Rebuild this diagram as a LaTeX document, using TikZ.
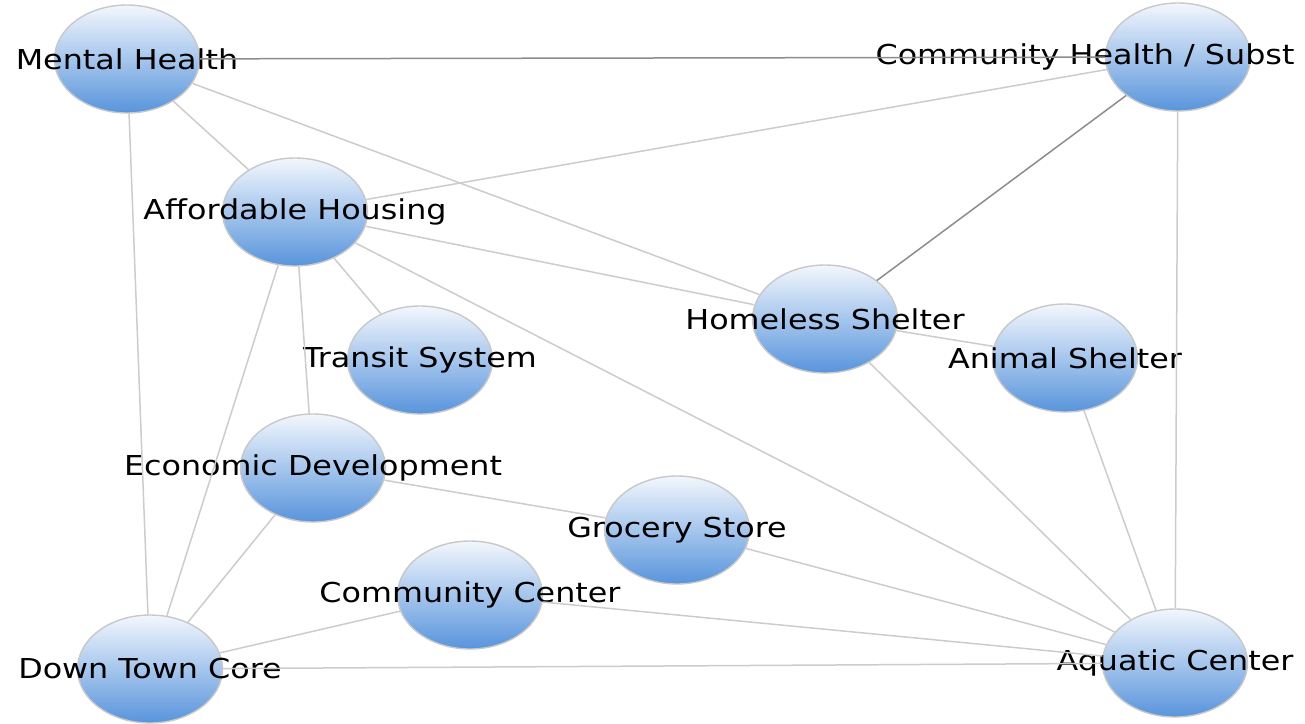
\documentclass[tikz,border=0pt]{standalone}
\usepackage{fontspec}
\setmainfont{DejaVu Sans}[FakeStretch=1.16]
\usetikzlibrary{shapes.geometric}
\definecolor{hubtop}{RGB}{243,247,253}
\definecolor{hubbot}{RGB}{88,148,220}
\definecolor{hubrim}{RGB}{200,200,200}
\definecolor{linkgray}{RGB}{204,204,204}
\definecolor{darkgray}{RGB}{140,140,140}
\tikzset{
  hub/.style={ellipse, minimum width=145pt, minimum height=108pt, inner sep=0pt,
    draw=hubrim, line width=1.4pt, top color=hubtop, bottom color=hubbot},
  link/.style={draw=linkgray, line width=1.5pt},
  strong/.style={draw=darkgray, line width=1.5pt},
  every label/.style={font=\fontsize{27.4}{30}\selectfont, inner sep=0pt}
}
\begin{document}
\begin{tikzpicture}[x=1pt, y=-1pt]
\useasboundingbox (0,0) rectangle (1305,723);
\foreach \n/\x/\y/\t in {mh/127/59/Mental Health, ah/295/212/Affordable Housing,
  hs/825/319/Homeless Shelter, as/1065/358/Animal Shelter, ts/420/360/Transit System,
  ed/313/468/Economic Development, gs/677/530/Grocery Store, cc/470/595/Community Center,
  dtc/150/669/Down Town Core, ac/1175/663/Aquatic Center}
{
    \node[hub, label=center:\t] (\n) at (\x,\y) {};
}
\node[hub, label={[xshift=-93pt]center:Community Health / Subst}] (ch) at (1178,57) {};

\draw[strong] (mh)--(ch);
\draw[strong] (ch)--(hs);
\foreach \a/\b in {mh/ah, mh/hs, mh/dtc, ch/ah, ch/ac, ah/hs, ah/ts, ah/ed, ah/dtc, ah/ac,
  hs/as, hs/ac, as/ac, ed/dtc, ed/gs, gs/ac, cc/dtc, cc/ac, dtc/ac}
{
    \draw[link] (\a)--(\b);
}
\end{tikzpicture}
\end{document}
